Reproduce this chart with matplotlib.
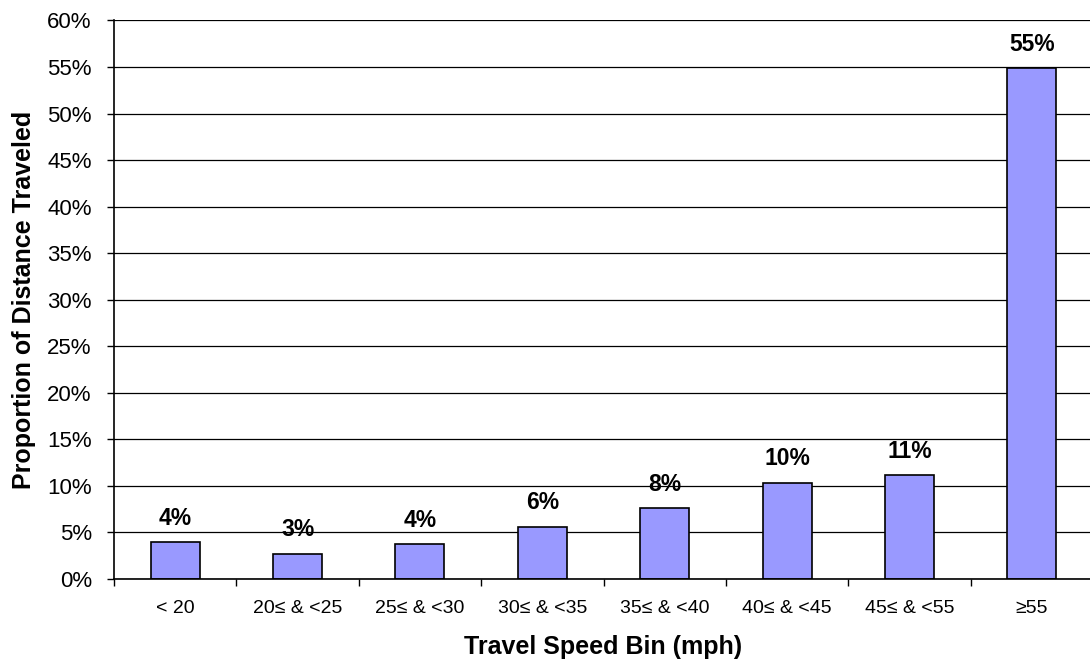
import matplotlib
matplotlib.use("Agg")
import matplotlib.pyplot as plt
from matplotlib.ticker import FixedLocator, PercentFormatter

# Share of distance traveled in each travel-speed bin (percent)
speed_bins = ["< 20", "20\u2264 & <25", "25\u2264 & <30", "30\u2264 & <35",
              "35\u2264 & <40", "40\u2264 & <45", "45\u2264 & <55", "\u226555"]
distance_share = [3.9, 2.7, 3.7, 5.6, 7.6, 10.3, 11.1, 54.9]
y_ticks = list(range(0, 61, 5))

plt.rcParams["font.family"] = ["Liberation Sans", "DejaVu Sans"]

fig = plt.figure(figsize=(10.90, 6.59), dpi=100)
ax = fig.add_axes([0.1046, 0.1219, 0.8982, 0.8470])

x = list(range(len(speed_bins)))
ax.bar(x, distance_share, width=0.4, color="#9999FF", edgecolor="black",
       linewidth=1.2, zorder=3)

for xi, v in zip(x, distance_share):
    ax.annotate(f"{v:.0f}%", (xi, v), xytext=(0, 12.5), textcoords="offset points",
                ha="center", va="baseline", fontsize=16.5, fontweight="bold",
                zorder=4)

ax.set_xlim(-0.5, len(speed_bins) - 0.5)
ax.set_ylim(0, 60)
ax.set_yticks(y_ticks)
ax.yaxis.set_major_formatter(PercentFormatter(decimals=0))
ax.yaxis.grid(True, color="black", linewidth=0.9, zorder=1)
ax.tick_params(axis="y", direction="out", length=5, width=1, pad=11,
               labelsize=16, colors="black")

# Tick marks sit between categories; labels sit under each bar
ax.xaxis.set_major_locator(FixedLocator([i - 0.5 for i in range(len(speed_bins) + 1)]))
ax.xaxis.set_major_formatter(plt.NullFormatter())
ax.xaxis.set_minor_locator(FixedLocator(x))
ax.set_xticklabels(speed_bins, minor=True)
ax.tick_params(axis="x", which="major", direction="out", length=5, width=1)
ax.tick_params(axis="x", which="minor", length=0, pad=15, labelsize=14)

for side in ("top", "right"):
    ax.spines[side].set_visible(False)
for side in ("left", "bottom"):
    ax.spines[side].set_linewidth(1.2)
    ax.spines[side].set_zorder(5)

ax.set_xlabel("Travel Speed Bin (mph)", fontsize=18, fontweight="bold",
              labelpad=13)
ax.set_ylabel("Proportion of Distance Traveled", fontsize=18, fontweight="bold")
ax.yaxis.set_label_coords(-0.080, 0.5)

fig.savefig("out.png", dpi=100)
